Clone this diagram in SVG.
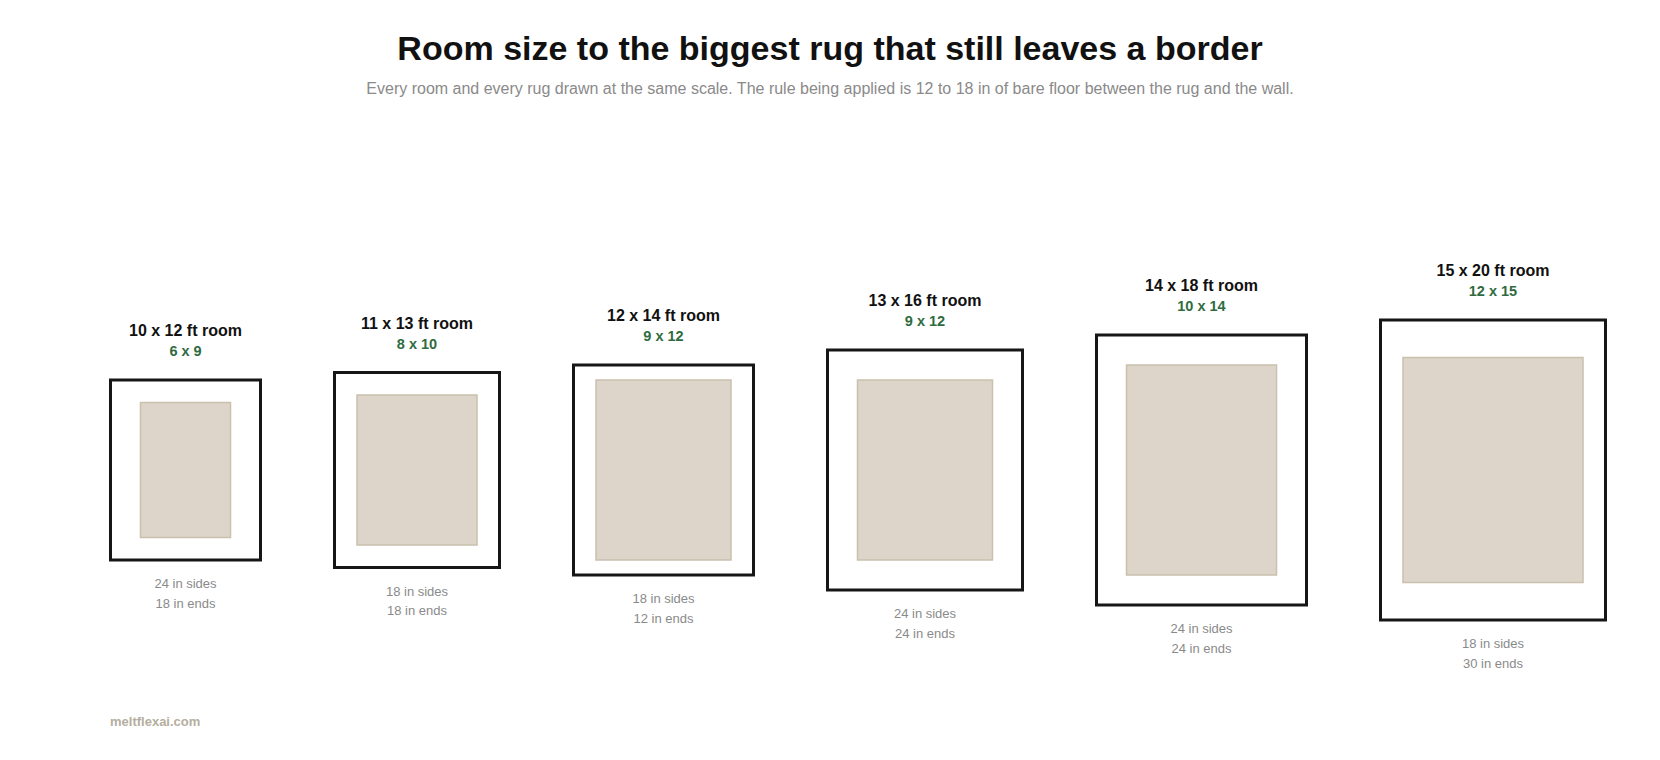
<svg xmlns="http://www.w3.org/2000/svg" width="1660" height="760" viewBox="0 0 1660 760">
<style>
  .title{font-family:"Liberation Sans",Arial,sans-serif;font-size:34px;font-weight:bold;fill:#111;text-anchor:middle}
  .sub{font-family:"Liberation Sans",Arial,sans-serif;font-size:16px;fill:#8a8a8a;text-anchor:middle}
  .room{fill:#fff;stroke:#161616;stroke-width:3}
  .rug{fill:#ddd5c9;stroke:#c9c0ae;stroke-width:1.5}
  .rl{font-family:"Liberation Sans",Arial,sans-serif;font-size:16px;font-weight:bold;fill:#111;text-anchor:middle}
  .gl{font-family:"Liberation Sans",Arial,sans-serif;font-size:14.5px;font-weight:bold;fill:#2f6b3f;text-anchor:middle}
  .bl{font-family:"Liberation Sans",Arial,sans-serif;font-size:13px;fill:#8a8a8a;text-anchor:middle}
  .foot{font-family:"Liberation Sans",Arial,sans-serif;font-size:13px;font-weight:bold;fill:#b5ae9f}
</style>
<rect width="1660" height="760" fill="#fff"/>
<text class="title" x="830" y="60">Room size to the biggest rug that still leaves a border</text>
<text class="sub" x="830" y="94">Every room and every rug drawn at the same scale. The rule being applied is 12 to 18 in of bare floor between the rug and the wall.</text>

<g id="room-10x12">
  <text class="rl" x="185.5" y="336">10 x 12 ft room</text>
  <text class="gl" x="185.5" y="356">6 x 9</text>
  <rect class="room" x="110.5" y="380" width="150" height="180"/>
  <rect class="rug" x="140.5" y="402.5" width="90" height="135"/>
  <text class="bl" x="185.5" y="588">24 in sides</text>
  <text class="bl" x="185.5" y="607.5">18 in ends</text>
</g>
<g id="room-11x13">
  <text class="rl" x="417" y="328.5">11 x 13 ft room</text>
  <text class="gl" x="417" y="348.5">8 x 10</text>
  <rect class="room" x="334.5" y="372.5" width="165" height="195"/>
  <rect class="rug" x="357" y="395" width="120" height="150"/>
  <text class="bl" x="417" y="595.5">18 in sides</text>
  <text class="bl" x="417" y="615">18 in ends</text>
</g>
<g id="room-12x14">
  <text class="rl" x="663.5" y="321">12 x 14 ft room</text>
  <text class="gl" x="663.5" y="341">9 x 12</text>
  <rect class="room" x="573.5" y="365" width="180" height="210"/>
  <rect class="rug" x="596" y="380" width="135" height="180"/>
  <text class="bl" x="663.5" y="603">18 in sides</text>
  <text class="bl" x="663.5" y="622.5">12 in ends</text>
</g>
<g id="room-13x16">
  <text class="rl" x="925" y="306">13 x 16 ft room</text>
  <text class="gl" x="925" y="326">9 x 12</text>
  <rect class="room" x="827.5" y="350" width="195" height="240"/>
  <rect class="rug" x="857.5" y="380" width="135" height="180"/>
  <text class="bl" x="925" y="618">24 in sides</text>
  <text class="bl" x="925" y="637.5">24 in ends</text>
</g>
<g id="room-14x18">
  <text class="rl" x="1201.5" y="291">14 x 18 ft room</text>
  <text class="gl" x="1201.5" y="311">10 x 14</text>
  <rect class="room" x="1096.5" y="335" width="210" height="270"/>
  <rect class="rug" x="1126.5" y="365" width="150" height="210"/>
  <text class="bl" x="1201.5" y="633">24 in sides</text>
  <text class="bl" x="1201.5" y="652.5">24 in ends</text>
</g>
<g id="room-15x20">
  <text class="rl" x="1493" y="276">15 x 20 ft room</text>
  <text class="gl" x="1493" y="296">12 x 15</text>
  <rect class="room" x="1380.5" y="320" width="225" height="300"/>
  <rect class="rug" x="1403" y="357.5" width="180" height="225"/>
  <text class="bl" x="1493" y="648">18 in sides</text>
  <text class="bl" x="1493" y="667.5">30 in ends</text>
</g>
<g id="connectors"></g>
<text class="foot" x="110" y="726">meltflexai.com</text>
</svg>
